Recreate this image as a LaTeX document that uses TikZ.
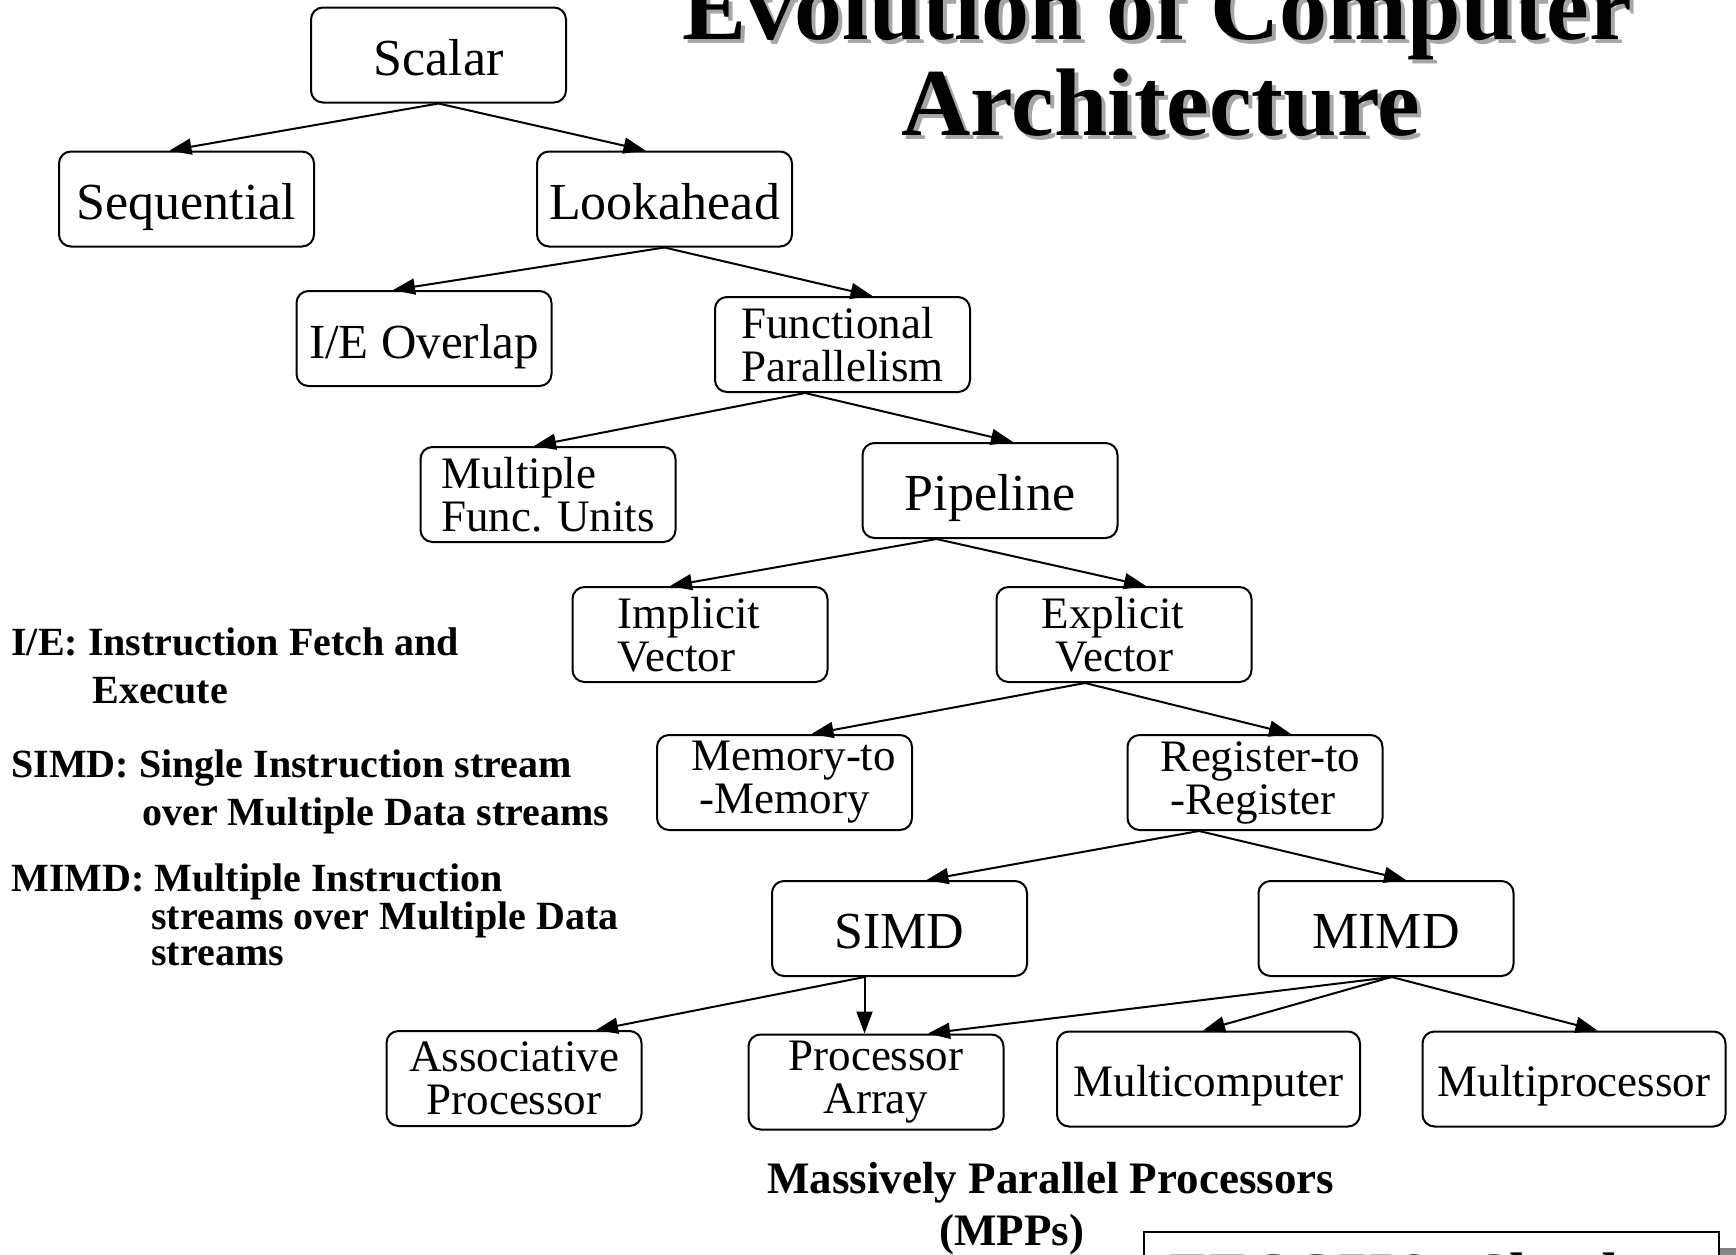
\documentclass[tikz,border=0pt]{standalone}
\usepackage{fontspec}
\setmainfont{Liberation Serif}
\usetikzlibrary{arrows.meta,calc}

\definecolor{shade}{gray}{0.65}

\begin{document}
\begin{tikzpicture}[x=0.5pt,y=-0.5pt,
  box/.style={draw, line width=1pt, rounded corners=6pt,
    minimum width=127.5pt, minimum height=47.5pt, inner sep=0pt,
    text height=23pt, text depth=3pt,
    font=\fontsize{26}{26}\selectfont},
  boxtwo/.style={draw, line width=1pt, rounded corners=6pt,
    minimum width=127.5pt, minimum height=47.5pt, inner sep=0pt,
    font=\fontsize{22.5}{21.5}\selectfont},
  widebox/.style={box, minimum width=151.5pt, text height=20pt, text depth=3pt,
    font=\fontsize{22.5}{22.5}\selectfont},
  arr/.style={-{Triangle[length=11pt,width=8pt]}, line width=1pt},
  legend/.style={anchor=base west, inner sep=0pt, font=\fontsize{20}{20}\selectfont\bfseries},
  ttl/.style={anchor=base, inner sep=0pt, font=\fontsize{48}{48}\selectfont\bfseries}]

\useasboundingbox (0,0) rectangle (1736,1254);

% title with drop shadow
\node[ttl, text=shade] (t1s) at (1161,43) {Evolution of Computer};
\node[ttl, text=shade] (t2s) at (1165,139) {Architecture};
\node[ttl] (t1) at (1157,39) {Evolution of Computer};
\node[ttl] (t2) at (1161,135) {Architecture};

% tree nodes
\node[box] (scalar) at (438.5,55) {Scalar};
\node[box] (seq) at (186.5,199) {Sequential};
\node[box] (look) at (664.5,199) {Lookahead};
\node[box, font=\fontsize{24.5}{24.5}\selectfont] (ie) at (424,338.5) {I/E Overlap};
\node[boxtwo, align=left] (func) at (842.5,344.5) {Functional\\Parallelism};
\node[boxtwo, align=left] (mfu) at (548,494.5) {Multiple\\Func. Units};
\node[box] (pipe) at (990,490.5) {Pipeline};
\node[boxtwo, align=left] (impl) at (700,634.5) {Implicit\hspace*{11pt}\\Vector\hspace*{11pt}};
\node[boxtwo, align=left] (expl) at (1124,634.5) {Explicit\hspace*{11pt}\\\hspace*{7pt}Vector};
\node[boxtwo, align=left] (mem) at (784.5,782.5) {\hspace*{9pt}Memory-to\\\hspace*{13.4pt}-Memory};
\node[boxtwo, align=left] (reg) at (1255,782.5) {\hspace*{5.5pt}Register-to\\\hspace*{10.5pt}-Register};
\node[box] (simd) at (899.5,928.5) {SIMD};
\node[box] (mimd) at (1386,928.5) {MIMD};
\node[boxtwo, align=center] (assoc) at (514,1078.5) {Associative\\Processor};
\node[boxtwo, align=center] (pa) at (876,1082) {Processor\\Array};
\node[widebox] (mcomp) at (1208.5,1079) {Multicomputer};
\node[widebox] (mproc) at (1574,1079) {Multiprocessor};

% connectors
\draw[arr] (scalar.south) -- ($(seq.north)+(-17,0)$);
\draw[arr] (scalar.south) -- ($(look.north)+(-19,0)$);
\draw[arr] (look.south) -- ($(ie.north)+(-31,0)$);
\draw[arr] (look.south) -- ($(func.north)+(30,0)$);
\draw[arr] ($(func.south)+(-37.5,0)$) -- ($(mfu.north)+(-14,0)$);
\draw[arr] ($(func.south)+(-37.5,0)$) -- ($(pipe.north)+(23,0)$);
\draw[arr] ($(pipe.south)+(-53.5,0)$) -- ($(impl.north)+(-30,0)$);
\draw[arr] ($(pipe.south)+(-53.5,0)$) -- ($(expl.north)+(22,0)$);
\draw[arr] ($(expl.south)+(-39,0)$) -- ($(mem.north)+(27,0)$);
\draw[arr] ($(expl.south)+(-39,0)$) -- ($(reg.north)+(36,0)$);
\draw[arr] ($(reg.south)+(-56,0)$) -- ($(simd.north)+(27,0)$);
\draw[arr] ($(reg.south)+(-56,0)$) -- ($(mimd.north)+(20,0)$);
\draw[arr] ($(simd.south)+(-35,0)$) -- ($(assoc.north)+(82,0)$);
\draw[arr] ($(simd.south)+(-35,0)$) -- ($(pa.north)+(-11.5,0)$);
\draw[arr] ($(mimd.south)+(5.6,0)$) -- ($(pa.north)+(52,0)$);
\draw[arr] ($(mimd.south)+(5.6,0)$) -- ($(mcomp.north)+(-5.5,0)$);
\draw[arr] ($(mimd.south)+(5.6,0)$) -- ($(mproc.north)+(23.5,0)$);

% abbreviations
\node[legend] (l1) at (11,655) {I/E: Instruction Fetch and};
\node[legend] (l2) at (92,703) {Execute};
\node[legend] (l3) at (11,777) {SIMD: Single Instruction stream};
\node[legend] (l4) at (142,825) {over Multiple Data streams};
\node[legend] (l5) at (11,891) {MIMD: Multiple Instruction};
\node[legend] (l6) at (151,929) {streams over Multiple Data};
\node[legend] (l7) at (151,965) {streams};

% caption under the leaves
\node[legend, font=\fontsize{22.5}{22.5}\selectfont\bfseries] (mpp1) at (767,1193) {Massively Parallel Processors};
\node[legend, font=\fontsize{22.5}{22.5}\selectfont\bfseries] (mpp2) at (939,1245) {(MPPs)};

% footer box running off the page
\fill[shade] (1720,1248) rectangle (1736,1300);
\draw[line width=1pt] (1144,1300) -- (1144,1232) -- (1719,1232) -- (1719,1300);
\node[anchor=north west, inner sep=0pt, text=shade, font=\fontsize{30}{30}\selectfont\bfseries] (foots) at (1172,1255) {EECC756 - Shaaban};
\node[anchor=north west, inner sep=0pt, font=\fontsize{30}{30}\selectfont\bfseries] (foot) at (1169,1252) {EECC756 - Shaaban};
\end{tikzpicture}
\end{document}
